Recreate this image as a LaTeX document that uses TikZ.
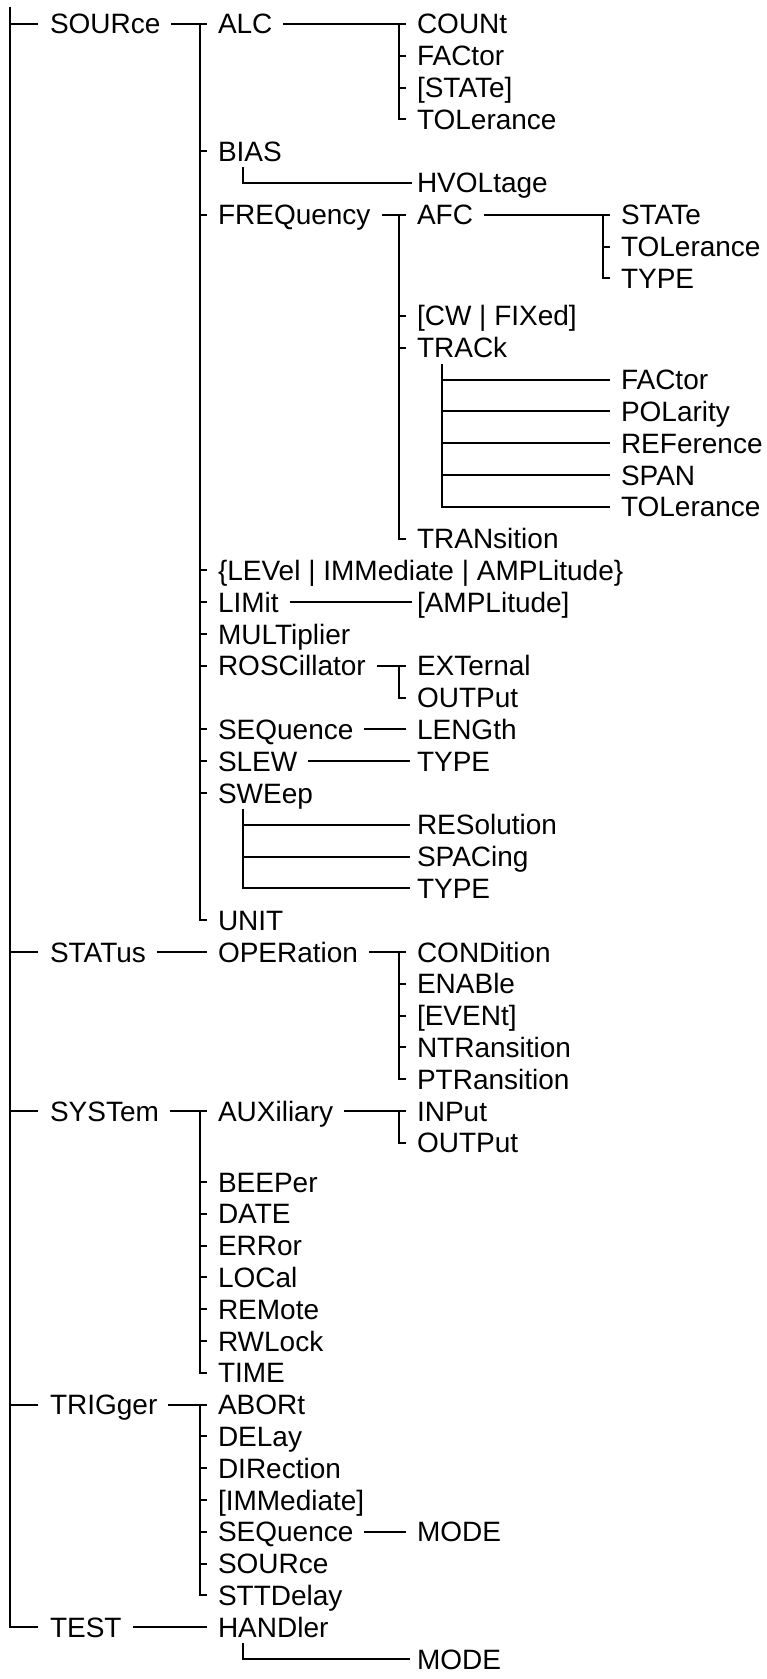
\documentclass[tikz,border=0pt]{standalone}
\usepackage{fontspec}
\setmainfont{Liberation Sans}
\usepackage{tikz}

\tikzset{
  cmd/.style={anchor=west, inner sep=0pt, text height=10pt, text depth=0pt},
}

\begin{document}
\begin{tikzpicture}[x=0.5pt, y=-0.5pt, line width=1pt,
    font=\fontsize{14}{16}\selectfont]
    \useasboundingbox (0,0) rectangle (766,1679);

    \node[cmd] (sour) at (49,24) {SOURce};
    \node[cmd] (stat) at (49,952) {STATus};
    \node[cmd] (syst) at (49,1111) {SYSTem};
    \node[cmd] (trig) at (49,1404.6) {TRIGger};
    \node[cmd] (test) at (49,1627.2) {TEST};

    \node[cmd] (alc) at (217,24) {ALC};
    \node[cmd] (bias) at (217,151.2) {BIAS};
    \node[cmd] (freq) at (217,214.8) {FREQuency};
    \node[cmd] (lev) at (217,570.4) {\{LEVel | IMMediate | AMPLitude\}};
    \node[cmd] (lim) at (217,602.2) {LIMit};
    \node[cmd] (mult) at (217,634) {MULTiplier};
    \node[cmd] (rosc) at (217,665.8) {ROSCillator};
    \node[cmd] (seq) at (217,729.4) {SEQuence};
    \node[cmd] (slew) at (217,761.2) {SLEW};
    \node[cmd] (swe) at (217,793) {SWEep};
    \node[cmd] (unit) at (217,920.2) {UNIT};
    \node[cmd] (oper) at (217,952) {OPERation};
    \node[cmd] (aux) at (217,1111) {AUXiliary};
    \node[cmd] (beep) at (217,1182) {BEEPer};
    \node[cmd] (date) at (217,1213.8) {DATE};
    \node[cmd] (err) at (217,1245.6) {ERRor};
    \node[cmd] (loc) at (217,1277.4) {LOCal};
    \node[cmd] (rem) at (217,1309.2) {REMote};
    \node[cmd] (rwl) at (217,1341) {RWLock};
    \node[cmd] (time) at (217,1372.8) {TIME};
    \node[cmd] (abort) at (217,1404.6) {ABORt};
    \node[cmd] (delay) at (217,1436.4) {DELay};
    \node[cmd] (dir) at (217,1468.2) {DIRection};
    \node[cmd] (imm) at (217,1500) {[IMMediate]};
    \node[cmd] (tseq) at (217,1531.8) {SEQuence};
    \node[cmd] (tsour) at (217,1563.6) {SOURce};
    \node[cmd] (sttd) at (217,1595.4) {STTDelay};
    \node[cmd] (handler) at (217,1627.2) {HANDler};

    \node[cmd] (count) at (416,24) {COUNt};
    \node[cmd] (fac) at (416,55.8) {FACtor};
    \node[cmd] (stte) at (416,87.6) {[STATe]};
    \node[cmd] (tol) at (416,119.4) {TOLerance};
    \node[cmd] (hvol) at (416,183) {HVOLtage};
    \node[cmd] (afc) at (416,214.8) {AFC};
    \node[cmd] (cw) at (416,316) {[CW | FIXed]};
    \node[cmd] (track) at (416,347.8) {TRACk};
    \node[cmd] (trans) at (416,538.6) {TRANsition};
    \node[cmd] (ampl) at (416,602.2) {[AMPLitude]};
    \node[cmd] (ext) at (416,665.8) {EXTernal};
    \node[cmd] (rout) at (416,697.6) {OUTPut};
    \node[cmd] (length) at (416,729.4) {LENGth};
    \node[cmd] (stype) at (416,761.2) {TYPE};
    \node[cmd] (res) at (416,824.8) {RESolution};
    \node[cmd] (spac) at (416,856.6) {SPACing};
    \node[cmd] (swtype) at (416,888.4) {TYPE};
    \node[cmd] (cond) at (416,952) {CONDition};
    \node[cmd] (ena) at (416,983.8) {ENABle};
    \node[cmd] (event) at (416,1015.6) {[EVENt]};
    \node[cmd] (ntr) at (416,1047.4) {NTRansition};
    \node[cmd] (ptr) at (416,1079.2) {PTRansition};
    \node[cmd] (inp) at (416,1111) {INPut};
    \node[cmd] (aout) at (416,1142.8) {OUTPut};
    \node[cmd] (tmode) at (416,1531.8) {MODE};
    \node[cmd] (hmode) at (416,1659) {MODE};

    \node[cmd] (afcstat) at (620,214.8) {STATe};
    \node[cmd] (afctol) at (620,246.6) {TOLerance};
    \node[cmd] (afctype) at (620,278.4) {TYPE};
    \node[cmd] (trfac) at (620,379.6) {FACtor};
    \node[cmd] (trpol) at (620,411.4) {POLarity};
    \node[cmd] (trref) at (620,443.2) {REFerence};
    \node[cmd] (trspan) at (620,475) {SPAN};
    \node[cmd] (trtol) at (620,506.8) {TOLerance};

    \coordinate (top) at (10,7);
    \draw (top) |- ([xshift=-5.5pt]test.west);
    \foreach \n in {sour,stat,syst,trig}
        \draw ([xshift=-19.5pt]\n.west) -- ([xshift=-5.5pt]\n.west);

    \draw ([xshift=5pt]sour.east) -- ([xshift=-5pt]alc.west);
    \draw ([xshift=-8.5pt]alc.west) |- ([xshift=-5pt]unit.west);
    \foreach \n in {bias,freq,lev,lim,mult,rosc,seq,slew,swe}
        \draw ([xshift=-8.5pt]\n.west) -- ([xshift=-5pt]\n.west);

    \draw ([xshift=5pt]alc.east) -- ([xshift=-5pt]count.west);
    \draw ([xshift=-8.5pt]count.west) |- ([xshift=-5pt]tol.west);
    \foreach \n in {fac,stte}
        \draw ([xshift=-8.5pt]\n.west) -- ([xshift=-5pt]\n.west);

    \draw ([xshift=13pt,yshift=-8pt]bias.west) |- ([xshift=-2pt]hvol.west);

    \draw ([xshift=5pt]freq.east) -- ([xshift=-5pt]afc.west);
    \draw ([xshift=-8.5pt]afc.west) |- ([xshift=-5pt]trans.west);
    \foreach \n in {cw,track}
        \draw ([xshift=-8.5pt]\n.west) -- ([xshift=-5pt]\n.west);

    \draw ([xshift=5pt]afc.east) -- ([xshift=-5pt]afcstat.west);
    \draw ([xshift=-8.5pt]afcstat.west) |- ([xshift=-5pt]afctype.west);
    \draw ([xshift=-8.5pt]afctol.west) -- ([xshift=-5pt]afctol.west);

    \coordinate (trbus) at ([xshift=13pt,yshift=-8pt]track.west);
    \draw (trbus) |- ([xshift=-5pt]trtol.west);
    \foreach \n in {trfac,trpol,trref,trspan}
        \draw (trbus |- \n.west) -- ([xshift=-5pt]\n.west);

    \draw ([xshift=5pt]lim.east) -- ([xshift=-2pt]ampl.west);
    \draw ([xshift=5pt]rosc.east) -- ([xshift=-5pt]ext.west);
    \draw ([xshift=-8.5pt]ext.west) |- ([xshift=-5pt]rout.west);
    \draw ([xshift=5pt]seq.east) -- ([xshift=-5pt]length.west);
    \draw ([xshift=5pt]slew.east) -- ([xshift=-3pt]stype.west);

    \coordinate (swbus) at ([xshift=13pt,yshift=-8pt]swe.west);
    \draw (swbus) |- ([xshift=-3pt]swtype.west);
    \foreach \n in {res,spac}
        \draw (swbus |- \n.west) -- ([xshift=-3pt]\n.west);

    \draw ([xshift=5pt]stat.east) -- ([xshift=-5pt]oper.west);
    \draw ([xshift=5pt]oper.east) -- ([xshift=-5pt]cond.west);
    \draw ([xshift=-8.5pt]cond.west) |- ([xshift=-5pt]ptr.west);
    \foreach \n in {ena,event,ntr}
        \draw ([xshift=-8.5pt]\n.west) -- ([xshift=-5pt]\n.west);

    \draw ([xshift=5pt]syst.east) -- ([xshift=-5pt]aux.west);
    \draw ([xshift=-8.5pt]aux.west) |- ([xshift=-5pt]time.west);
    \foreach \n in {beep,date,err,loc,rem,rwl}
        \draw ([xshift=-8.5pt]\n.west) -- ([xshift=-5pt]\n.west);
    \draw ([xshift=5pt]aux.east) -- ([xshift=-5pt]inp.west);
    \draw ([xshift=-8.5pt]inp.west) |- ([xshift=-5pt]aout.west);

    \draw ([xshift=5pt]trig.east) -- ([xshift=-5pt]abort.west);
    \draw ([xshift=-8.5pt]abort.west) |- ([xshift=-5pt]sttd.west);
    \foreach \n in {delay,dir,imm,tseq,tsour}
        \draw ([xshift=-8.5pt]\n.west) -- ([xshift=-5pt]\n.west);
    \draw ([xshift=5pt]tseq.east) -- ([xshift=-5pt]tmode.west);

    \draw ([xshift=5pt]test.east) -- ([xshift=-5pt]handler.west);
    \draw ([xshift=13pt,yshift=-8pt]handler.west) |- ([xshift=-3pt]hmode.west);
\end{tikzpicture}
\end{document}
